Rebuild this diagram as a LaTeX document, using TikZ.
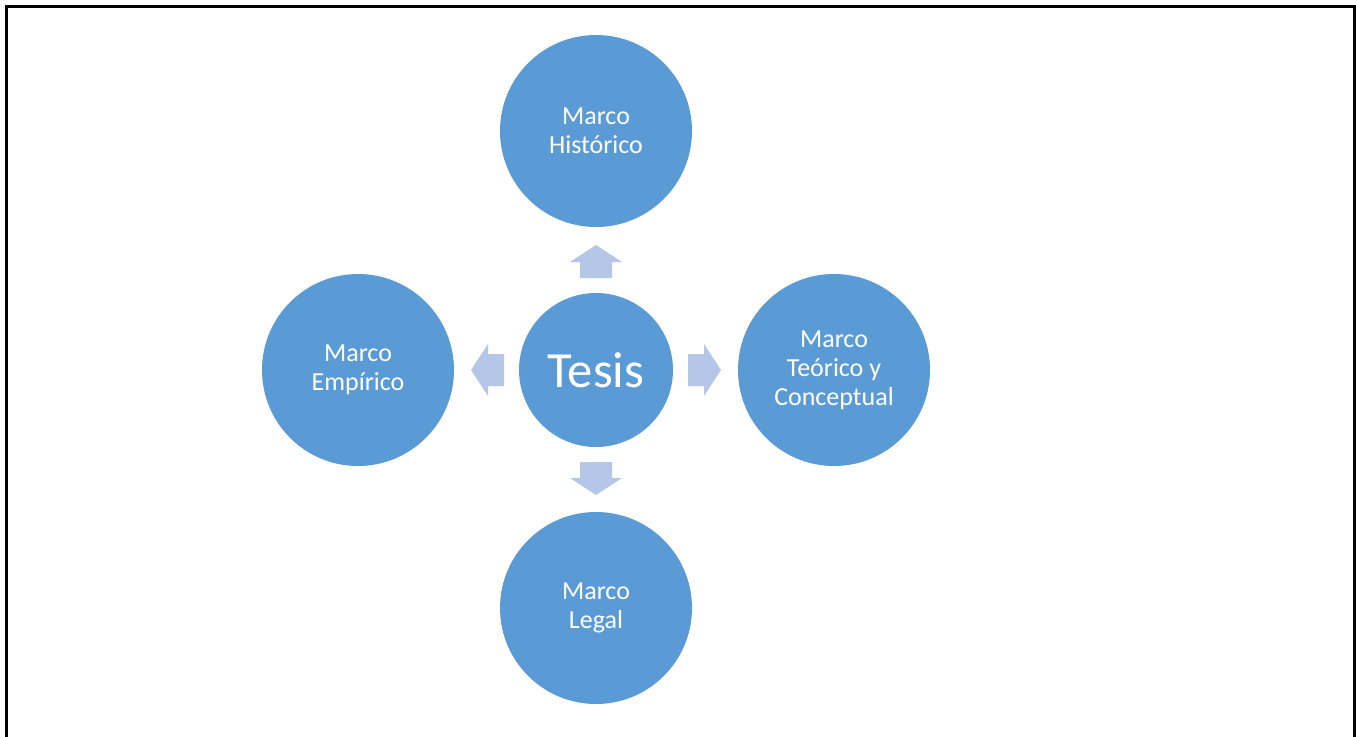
\documentclass[tikz,border=0pt]{standalone}
\usepackage{fontspec}
\setmainfont{Carlito}
\usetikzlibrary{calc}
\usetikzlibrary{backgrounds}

\definecolor{marcoblue}{HTML}{5B9BD5}
\definecolor{arrowblue}{HTML}{B4C7E7}

\begin{document}
\begin{tikzpicture}[x=0.75pt, y=-0.75pt, background rectangle/.style={fill=white}, show background rectangle]
\tikzset{marco/.style={circle,fill=marcoblue,text=white,inner sep=0,minimum size=192*0.75pt,align=center,font=\fontsize{19.5}{21.75}\selectfont}}
\tikzset{centre/.style={marco,minimum size=154*0.75pt,font=\fontsize{38}{44}\selectfont}}
\tikzset{blockarrow/.style={fill=arrowblue,draw=none}}

\useasboundingbox (0,0) rectangle (1356,736);

% frame, open at the bottom
\draw[line width=2.25pt] (6.5,740) -- (6.5,6) -- (1354.5,6) -- (1354.5,740);

% circles
\node[centre] (tesis) at (596,370) {Tesis};
\node[marco] (historico) at (596,131) {Marco\\Histórico};
\node[marco] (empirico) at (358,370) {Marco\\Empírico};
\node[marco] (teorico) at (834,370) {Marco\\Teórico y\\Conceptual};
\node[marco] (legal) at (596,608) {Marco\\Legal};

% arrows out of the centre
\foreach \a in {0,90,180,270}{
\begin{scope}[rotate around={\a:(tesis)}]
\fill[blockarrow] ($(tesis)+(92,-16)$) -- ($(tesis)+(108,-16)$) -- ($(tesis)+(108,-26)$) -- ($(tesis)+(125,0)$)
  -- ($(tesis)+(108,26)$) -- ($(tesis)+(108,16)$) -- ($(tesis)+(92,16)$) -- cycle;
\end{scope}
}

\end{tikzpicture}
\end{document}
